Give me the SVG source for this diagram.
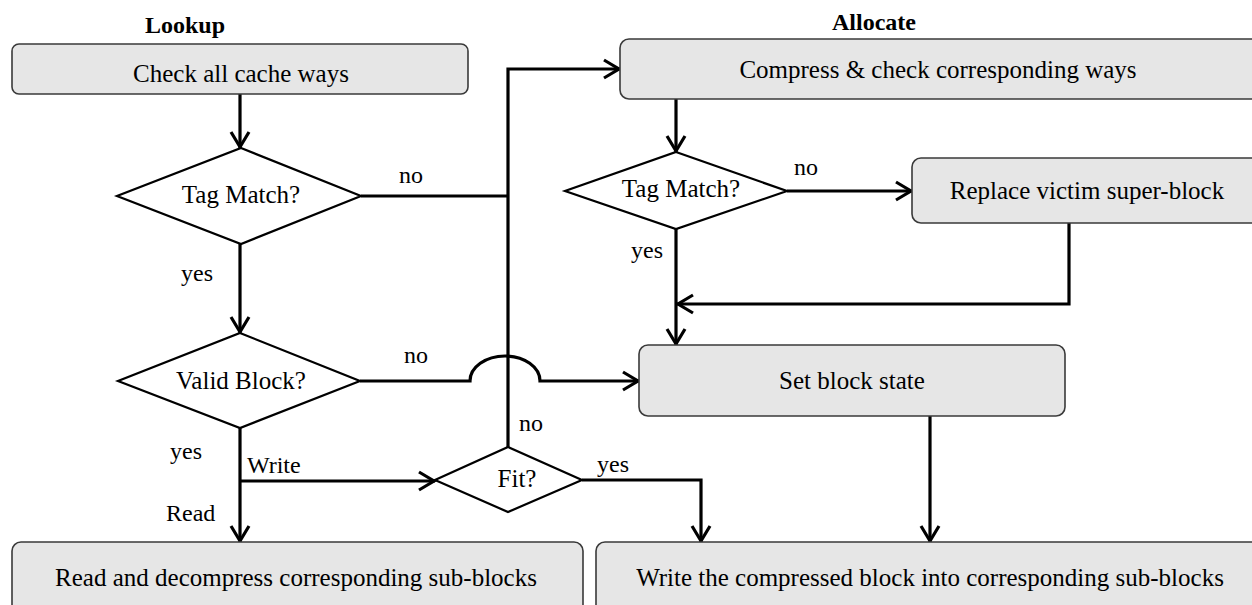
<svg xmlns="http://www.w3.org/2000/svg" width="1252" height="605" viewBox="0 0 1252 605">
<defs>
<style>
.box{fill:#e6e6e6;stroke:#3a3a3a;stroke-width:1.6}
.dia{fill:#fff;stroke:#000;stroke-width:2.2}
.t{font-family:"Liberation Serif","Times New Roman",serif;font-size:25px;fill:#000;text-anchor:middle}
.l{font-family:"Liberation Serif","Times New Roman",serif;font-size:24px;fill:#000}
.h{font-family:"Liberation Serif","Times New Roman",serif;font-size:24px;font-weight:bold;fill:#000;text-anchor:middle}
.c{fill:none;stroke:#000;stroke-width:3.2}
.a{marker-end:url(#arr)}
</style>
<marker id="arr" markerUnits="userSpaceOnUse" markerWidth="40" markerHeight="40" viewBox="-25 -20 40 40" refX="0" refY="0" orient="auto" overflow="visible">
<path d="M-16,-9 L-1,0 L-16,9" fill="none" stroke="#000" stroke-width="3.2"/>
</marker>
</defs>
<rect width="1252" height="605" fill="#fff"/>

<text class="h" x="185" y="33">Lookup</text>
<text class="h" x="874" y="30">Allocate</text>

<g id="connectors">
<path class="c a" d="M240,94 V148"/>
<path class="c" d="M361,196 H508"/>
<path class="c a" d="M508,447 V69 H620"/>
<path class="c a" d="M240,244 V333"/>
<path class="c a" d="M360,381 H470 A35,25 0 0 1 540,381 H639"/>
<path class="c a" d="M240,428 V542"/>
<path class="c a" d="M240,481 H435"/>
<path class="c a" d="M582,480 H701 V542"/>
<path class="c a" d="M676,99 V152"/>
<path class="c a" d="M787,191 H912"/>
<path class="c a" d="M676,229 V345"/>
<path class="c a" d="M1069,223 V304 H677"/>
<path class="c a" d="M930,416 V542"/>
</g>

<g id="n-check">
<rect class="box" x="12" y="44" width="456" height="50" rx="7"/>
<text class="t" x="241" y="82">Check all cache ways</text>
</g>
<g id="n-tag1">
<polygon class="dia" points="241,148 361,196 241,244 117,196"/>
<text class="t" x="241" y="203">Tag Match?</text>
</g>
<g id="n-valid">
<polygon class="dia" points="240,333 360,381 240,428 118,381"/>
<text class="t" x="241" y="389">Valid Block?</text>
</g>
<g id="n-fit">
<polygon class="dia" points="508,447 582,480 508,512 435,480"/>
<text class="t" x="517" y="487">Fit?</text>
</g>
<g id="n-read">
<rect class="box" x="12" y="542" width="571" height="80" rx="9"/>
<text class="t" x="296" y="586">Read and decompress corresponding sub-blocks</text>
</g>
<g id="n-compress">
<rect class="box" x="620" y="39" width="660" height="60" rx="9"/>
<text class="t" x="938" y="78">Compress &amp; check corresponding ways</text>
</g>
<g id="n-tag2">
<polygon class="dia" points="676,152 787,191 676,229 565,191"/>
<text class="t" x="681" y="197">Tag Match?</text>
</g>
<g id="n-replace">
<rect class="box" x="912" y="158" width="360" height="65" rx="9"/>
<text class="t" x="1087" y="199">Replace victim super-block</text>
</g>
<g id="n-set">
<rect class="box" x="639" y="345" width="426" height="71" rx="9"/>
<text class="t" x="852" y="389">Set block state</text>
</g>
<g id="n-write">
<rect class="box" x="596" y="542" width="680" height="80" rx="9"/>
<text class="t" x="930" y="586">Write the compressed block into corresponding sub-blocks</text>
</g>

<g id="labels">
<text class="l" x="399" y="183">no</text>
<text class="l" x="181" y="281">yes</text>
<text class="l" x="794" y="175">no</text>
<text class="l" x="631" y="258">yes</text>
<text class="l" x="404" y="363">no</text>
<text class="l" x="519" y="431">no</text>
<text class="l" x="170" y="459">yes</text>
<text class="l" x="247" y="473">Write</text>
<text class="l" x="166" y="521">Read</text>
<text class="l" x="597" y="472">yes</text>
</g>
</svg>
